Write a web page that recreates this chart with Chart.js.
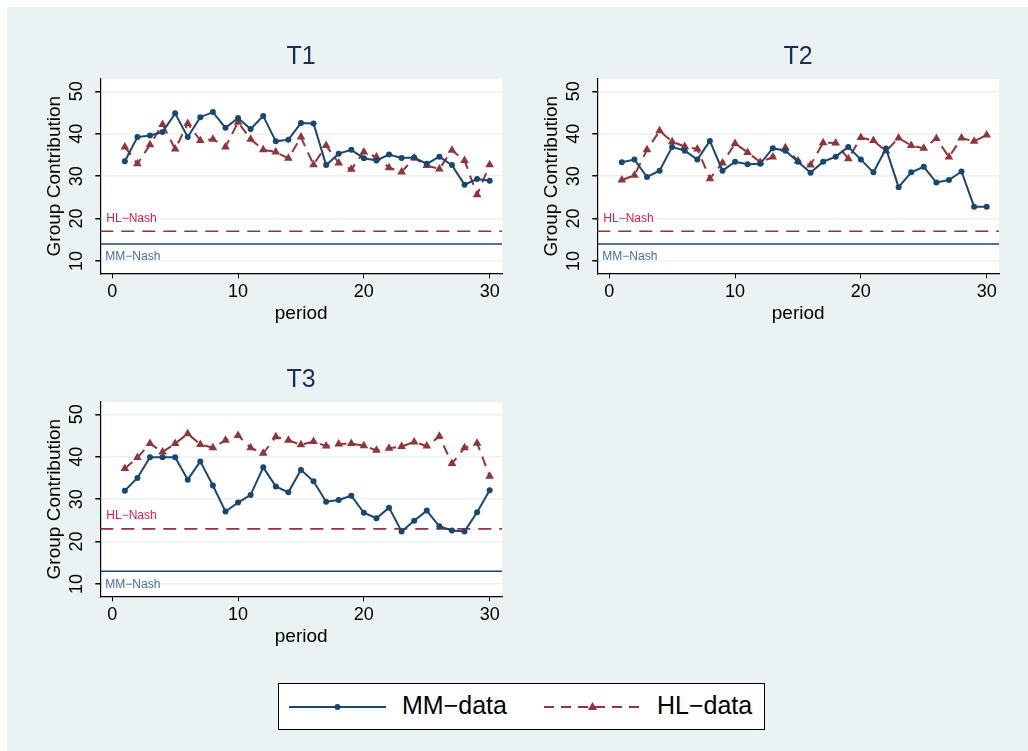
<!DOCTYPE html>
<html>
<head>
<meta charset="utf-8">
<script src="https://cdn.jsdelivr.net/npm/chart.js@4.4.1/dist/chart.umd.min.js"></script>
<style>
  html, body { margin: 0; padding: 0; background: #fff; }
  body { width: 1028px; height: 751px; position: relative; overflow: hidden; font-family: "Liberation Sans", Arial, sans-serif; }
  #bg { position: absolute; left: 7px; top: 7px; right: 0; bottom: 0; background: #eaf2f3; }
  .panel { position: absolute; width: 500px; height: 300px; }
  #legend { position: absolute; left: 278px; top: 683px; width: 485px; height: 45px; border: 1px solid #000; background: #fff; }
  #legend svg { position: absolute; top: 0; }
  #legend span { position: absolute; top: 7px; font-size: 25px; color: #000; }
</style>
</head>
<body>
<div id="bg"></div>
<div class="panel" style="left:20px; top:30px;"><canvas id="t1"></canvas></div>
<div class="panel" style="left:517px; top:30px;"><canvas id="t2"></canvas></div>
<div class="panel" style="left:20px; top:353px;"><canvas id="t3"></canvas></div>
<div id="legend">
  <svg width="110" height="45" style="left:10px">
    <line x1="0" y1="23" x2="97" y2="23" stroke="#1a476f" stroke-width="2"/>
    <circle cx="48.5" cy="23" r="3" fill="#1a476f"/>
  </svg>
  <span style="left:123px">MM−data</span>
  <svg width="110" height="45" style="left:265px">
    <line x1="0" y1="23" x2="97" y2="23" stroke="#90353b" stroke-width="2" stroke-dasharray="10,7"/>
    <polygon points="48.5,18 53,26 44,26" fill="#90353b"/>
  </svg>
  <span style="left:378px">HL−data</span>
</div>
<script>
const periods = [];
for (let p = 1; p <= 30; p++) periods.push(p);

const xTicks = [0, 10, 20, 30];
const yTicks = [10, 20, 30, 40, 50];

// T1 group contributions per period
const t1MM = [33.5, 39.2, 39.6, 40.4, 44.8, 39.2, 43.9, 45.1, 41.4, 43.7,
              41.1, 44.2, 38.2, 38.6, 42.5, 42.4, 32.6, 35.3, 36.2, 34.2,
              33.7, 35.1, 34.3, 34.4, 32.9, 34.6, 32.6, 28.0, 29.3, 28.9];
const t1HL = [36.9, 32.9, 37.4, 42.2, 36.4, 42.4, 38.4, 38.7, 36.9, 42.7,
              38.7, 36.2, 35.7, 34.2, 39.2, 32.7, 37.2, 33.1, 31.6, 35.7,
              34.5, 32.0, 31.0, 34.3, 32.5, 31.7, 36.1, 33.7, 25.6, 32.7];

// T2
const t2MM = [33.3, 33.9, 29.8, 31.3, 36.9, 36.0, 33.9, 38.3, 31.3, 33.4,
              32.8, 32.9, 36.6, 36.0, 33.4, 30.8, 33.4, 34.6, 36.9, 33.9,
              30.9, 36.5, 27.4, 30.9, 32.2, 28.5, 29.1, 31.1, 22.8, 22.8];
const t2HL = [29.1, 30.2, 36.2, 40.7, 38.1, 37.0, 36.4, 29.4, 33.1, 37.7,
              35.6, 33.3, 34.5, 36.7, 33.6, 32.6, 37.9, 37.8, 34.1, 39.1,
              38.4, 35.9, 39.0, 37.2, 36.6, 38.9, 34.5, 39.0, 38.2, 39.7];

// T3
const t3MM = [32.0, 35.0, 39.9, 39.9, 39.9, 34.6, 38.9, 33.2, 27.1, 29.2,
              31.0, 37.5, 33.0, 31.6, 36.9, 34.2, 29.4, 29.8, 30.8, 26.8,
              25.5, 28.0, 22.4, 24.9, 27.3, 23.6, 22.6, 22.4, 26.9, 32.1];
const t3HL = [37.2, 39.8, 43.1, 41.1, 43.1, 45.4, 42.9, 42.1, 43.9, 45.0,
              42.1, 40.8, 44.7, 43.9, 42.8, 43.6, 42.5, 43.0, 43.1, 42.6,
              41.5, 42.0, 42.4, 43.5, 42.5, 44.8, 38.4, 42.1, 43.2, 35.4];

// equilibrium benchmarks [HL-Nash, MM-Nash]
const nashT1 = [17, 14];
const nashT2 = [17, 14];
const nashT3 = [23, 13];

const NAVY = '#1a476f';
const MAROON = '#90353b';

const nashLines = {
  id: 'nashLines',
  beforeDatasetsDraw(chart, args, opts) {
    const {ctx, chartArea: a, scales: {y}} = chart;
    const yHL = y.getPixelForValue(opts.hl);
    const yMM = y.getPixelForValue(opts.mm);
    ctx.save();
    ctx.lineWidth = 1.6;
    ctx.strokeStyle = MAROON;
    ctx.setLineDash([13, 8]);
    ctx.beginPath();
    ctx.moveTo(a.left, yHL);
    ctx.lineTo(a.right, yHL);
    ctx.stroke();
    ctx.setLineDash([]);
    ctx.strokeStyle = NAVY;
    ctx.beginPath();
    ctx.moveTo(a.left, yMM);
    ctx.lineTo(a.right, yMM);
    ctx.stroke();
    ctx.font = '12px "Liberation Sans", Arial, sans-serif';
    ctx.textBaseline = 'middle';
    ctx.fillStyle = '#d21f4c';
    ctx.fillText('HL−Nash', a.left + 6, yHL - 13);
    ctx.fillStyle = '#4a6d96';
    ctx.fillText('MM−Nash', a.left + 5, yMM + 13);
    ctx.restore();
  }
};

function makePanel(id, title, mm, hl, nash) {
  new Chart(document.getElementById(id), {
    type: 'line',
    data: {
      labels: periods,
      datasets: [{
        label: 'MM-data',
        data: periods.map((p, i) => ({x: p, y: mm[i]})),
        borderColor: NAVY,
        backgroundColor: NAVY,
        borderWidth: 2,
        pointStyle: 'circle',
        pointRadius: 3,
        pointBorderWidth: 0,
        tension: 0
      }, {
        label: 'HL-data',
        data: periods.map((p, i) => ({x: p, y: hl[i]})),
        borderColor: MAROON,
        backgroundColor: MAROON,
        borderWidth: 2,
        borderDash: [10, 7],
        pointStyle: 'triangle',
        pointRadius: 5,
        pointBorderWidth: 0,
        tension: 0
      }]
    },
    options: {
      responsive: false,
      animation: false,
      layout: {padding: {left: 0, right: 18, top: 6, bottom: 0}},
      plugins: {
        legend: {display: false},
        tooltip: {enabled: false},
        title: {
          display: true,
          fullSize: false,
          text: title,
          color: '#1e2d56',
          font: {size: 25, family: '"Liberation Sans", Arial, sans-serif', weight: 'normal'},
          padding: {top: 6, bottom: 7}
        },
        nashLines: {hl: nash[0], mm: nash[1]}
      },
      scales: {
        x: {
          type: 'linear',
          min: -0.95,
          max: 30.98,
          afterBuildTicks: s => { s.ticks = xTicks.map(v => ({value: v})); },
          afterFit: s => { s.height = 56.7; },
          grid: {drawOnChartArea: false, drawTicks: true, tickLength: 5, tickColor: '#000'},
          border: {display: true, color: '#000', width: 1.2},
          ticks: {color: '#000', padding: 3, font: {size: 18, family: '"Liberation Sans", Arial, sans-serif'}},
          title: {display: true, text: 'period', color: '#000', padding: {top: 0, bottom: 5},
                  font: {size: 19, family: '"Liberation Sans", Arial, sans-serif'}}
        },
        y: {
          min: 7.1,
          max: 52.9,
          afterBuildTicks: s => { s.ticks = yTicks.map(v => ({value: v})); },
          afterFit: s => { s.width = 80.3; },
          grid: {color: '#eaf2f3', lineWidth: 1.5, drawTicks: true, tickLength: 5, tickColor: '#000'},
          border: {display: true, color: '#000', width: 1.2},
          ticks: {color: '#000', padding: 8, minRotation: 90, maxRotation: 90, crossAlign: 'center',
                  font: {size: 18, family: '"Liberation Sans", Arial, sans-serif'}},
          title: {display: true, text: 'Group Contribution', color: '#000', padding: {top: 23, bottom: 0},
                  font: {size: 19, family: '"Liberation Sans", Arial, sans-serif'}}
        }
      }
    },
    plugins: [nashLines, {
      id: 'plotBg',
      beforeDraw(chart) {
        const {ctx, chartArea: a} = chart;
        ctx.save();
        ctx.fillStyle = '#fff';
        ctx.fillRect(a.left, a.top, a.right - a.left, a.bottom - a.top);
        ctx.restore();
      }
    }]
  });
}

for (const id of ['t1', 't2', 't3']) {
  const c = document.getElementById(id);
  c.width = 500;
  c.height = 300;
}
makePanel('t1', 'T1', t1MM, t1HL, nashT1);
makePanel('t2', 'T2', t2MM, t2HL, nashT2);
makePanel('t3', 'T3', t3MM, t3HL, nashT3);
</script>
</body>
</html>
